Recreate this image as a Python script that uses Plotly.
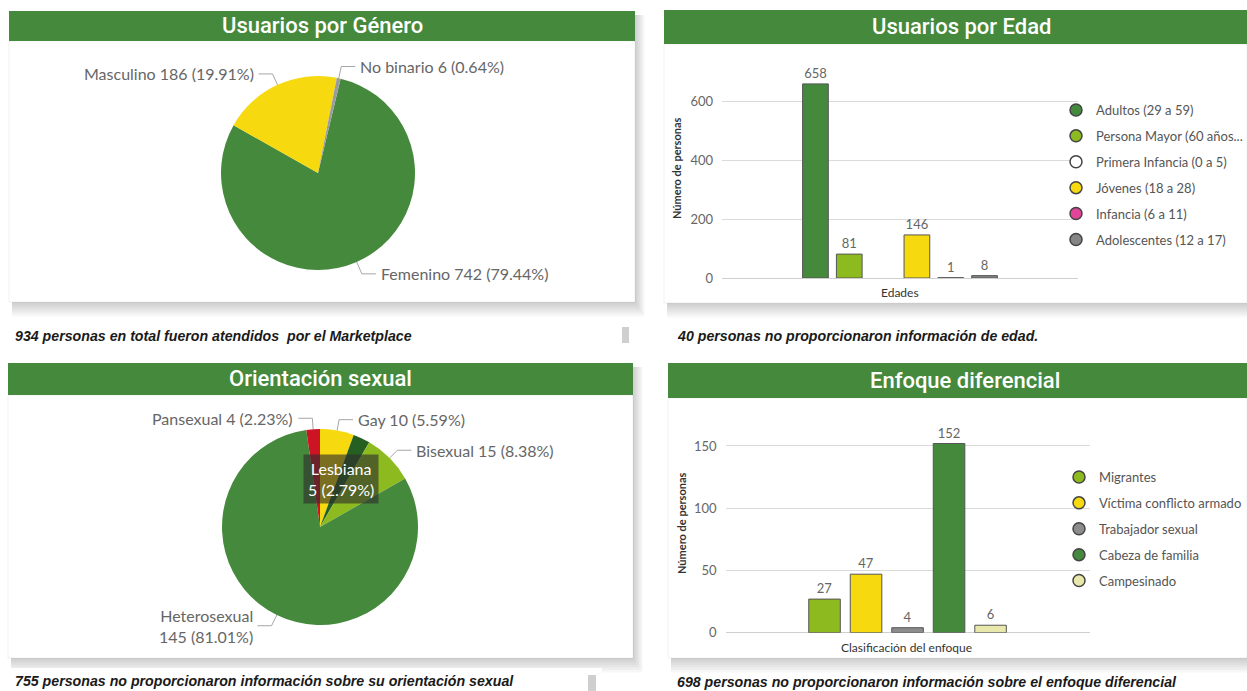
import math
import plotly.graph_objects as go

W, H = 1247, 691

# ---------------- data ----------------
gen_labels = ["Femenino", "Masculino", "No binario"]
gen_values = [742, 186, 6]
gen_colors = ["#45893C", "#F7D90F", "#9B9B9B"]

age_labels = ["Adultos (29 a 59)", "Persona Mayor (60 años...", "Primera Infancia (0 a 5)",
              "Jóvenes (18 a 28)", "Infancia (6 a 11)", "Adolescentes (12 a 17)"]
age_values = [658, 81, None, 146, 1, 8]
age_colors = ["#45893C", "#8DBB1F", "#FFFFFF", "#F7D90F", "#E2449A", "#858585"]

ori_labels = ["Gay", "Lesbiana", "Bisexual", "Heterosexual", "Pansexual"]
ori_values = [10, 5, 15, 145, 4]
ori_colors = ["#F7D90F", "#255F22", "#8DBB1F", "#45893C", "#CC1425"]

enf_labels = ["Migrantes", "Víctima conflicto armado", "Trabajador sexual",
              "Cabeza de familia", "Campesinado"]
enf_values = [27, 47, 4, 152, 6]
enf_colors = ["#8DBB1F", "#F7D90F", "#8C8C8C", "#45893C", "#E8E8AA"]

titles = ["Usuarios por Género", "Usuarios por Edad", "Orientación sexual", "Enfoque diferencial"]
captions = ["934 personas en total fueron atendidos  por el Marketplace",
            "40 personas no proporcionaron información de edad.",
            "755 personas no proporcionaron información sobre su orientación sexual",
            "698 personas no proporcionaron información sobre el enfoque diferencial"]

# ---------------- helpers ----------------
def fx(p):
    return p / W

def fy(p):
    return 1 - p / H

GREEN = "#45893C"
LABEL_FONT = "Lato"
fig = go.Figure()
shapes = []
annotations = []

# ---------------- panels ----------------
panels = [  # header box, body box
    ((9, 11, 635, 41), (9, 41, 635, 302)),
    ((664, 10, 1247, 44), (664, 44, 1247, 303)),
    ((8, 363, 633, 395), (8, 395, 633, 658)),
    ((668, 363, 1247, 398), (668, 398, 1247, 658)),
]
for (hx0, hy0, hx1, hy1), (bx0, by0, bx1, by1) in panels:
    for k in range(1, 7):
        shapes.append(dict(type="rect", xref="paper", yref="paper", layer="below",
                           x0=fx(bx0 + 3), x1=fx(bx1 + 1.6 * k), y0=fy(hy0 + 4), y1=fy(by1 + 2.4 * k),
                           fillcolor="rgba(0,0,0,0.03)", line=dict(width=0)))
    shapes.append(dict(type="rect", xref="paper", yref="paper", layer="below",
                       x0=fx(bx0), x1=fx(bx1), y0=fy(by0), y1=fy(by1),
                       fillcolor="white", line=dict(color="rgba(0,0,0,0.06)", width=1)))
    shapes.append(dict(type="rect", xref="paper", yref="paper", layer="below",
                       x0=fx(hx0), x1=fx(hx1), y0=fy(hy0), y1=fy(hy1),
                       fillcolor=GREEN, line=dict(width=0)))

# caption background for panel 3 and small scroll markers
shapes.append(dict(type="rect", xref="paper", yref="paper", layer="below",
                   x0=fx(10), x1=fx(602), y0=fy(668), y1=fy(691),
                   fillcolor="white", line=dict(width=0)))
for (x0, y0, x1, y1) in [(622, 327, 629, 343), (588, 675, 596, 691)]:
    shapes.append(dict(type="rect", xref="paper", yref="paper", layer="below",
                       x0=fx(x0), x1=fx(x1), y0=fy(y0), y1=fy(y1),
                       fillcolor="#CFCFCF", line=dict(width=0)))

title_pos = [(322, 25), (961, 27), (320, 378), (965, 380)]
for t, (x, y) in zip(titles, title_pos):
    annotations.append(dict(text=t, x=fx(x), y=fy(y), xref="paper", yref="paper",
                            showarrow=False, xanchor="center", yanchor="middle",
                            font=dict(family="Roboto", size=22, color="white", weight=500)))

cap_pos = [(13, 336), (675, 336), (13, 681), (675, 682)]
for t, (x, y) in zip(captions, cap_pos):
    annotations.append(dict(text=t.replace("  ", " \u00a0"), x=fx(x), y=fy(y), xref="paper", yref="paper",
                            showarrow=False, xanchor="left", yanchor="middle",
                            font=dict(family="Liberation Sans", size=14.2, color="#1A1A1A",
                                      weight="bold", style="italic")))

# ---------------- pies ----------------
def add_pie(labels, values, colors, cx, cy, r, rotation, label_specs):
    fig.add_trace(go.Pie(labels=labels, values=values, sort=False, direction="clockwise",
                         rotation=rotation, marker=dict(colors=colors, line=dict(width=0)),
                         textinfo="none", hoverinfo="label+value+percent", showlegend=False,
                         domain=dict(x=[fx(cx - r), fx(cx + r)], y=[fy(cy + r), fy(cy - r)])))
    total = sum(values)
    ang = rotation
    for lab, v in zip(labels, values):
        span = 360.0 * v / total
        mid = math.radians(ang + span / 2)
        ang += span
        pct = 100.0 * v / total
        spec = label_specs[lab]
        if spec["mode"] == "inside":
            px = cx + 0.5 * r * math.sin(mid)
            py = cy - 0.5 * r * math.cos(mid) - 4
            annotations.append(dict(text=f"{lab}<br>{v} ({pct:.2f}%)", x=fx(px), y=fy(py),
                                    xref="paper", yref="paper", showarrow=False,
                                    xanchor="center", yanchor="middle", align="center",
                                    bgcolor="rgba(45,45,45,0.62)", borderpad=4,
                                    font=dict(family=LABEL_FONT, size=16, color="white")))
            continue
        ext = spec.get("ext", 12)
        sx, sy = cx + r * math.sin(mid), cy - r * math.cos(mid)
        ex, ey = cx + (r + ext) * math.sin(mid), cy - (r + ext) * math.cos(mid)
        side = spec["side"]
        hx = ex + (14 if side == "right" else -14)
        shapes.append(dict(type="path", xref="paper", yref="paper",
                           path=f"M {fx(sx)},{fy(sy)} L {fx(ex)},{fy(ey)} L {fx(hx)},{fy(ey)}",
                           line=dict(color="#A6A6A6", width=1)))
        sep = "<br>" if spec.get("wrap") else " "
        annotations.append(dict(text=f"{lab}{sep}{v} ({pct:.2f}%)",
                                x=fx(hx + (3 if side == "right" else -3)), y=fy(ey),
                                xref="paper", yref="paper", showarrow=False,
                                xanchor="left" if side == "right" else "right",
                                yanchor="middle", align="right" if side == "left" else "left",
                                font=dict(family=LABEL_FONT, size=16, color="#666666")))

add_pie(gen_labels, gen_values, gen_colors, 318, 173, 97, 13.5, {
    "Femenino": dict(mode="out", side="right", ext=13),
    "Masculino": dict(mode="out", side="left", ext=12),
    "No binario": dict(mode="out", side="right", ext=12),
})
add_pie(ori_labels, ori_values, ori_colors, 320, 527, 98, 0, {
    "Gay": dict(mode="out", side="right", ext=11),
    "Lesbiana": dict(mode="inside"),
    "Bisexual": dict(mode="out", side="right", ext=11),
    "Heterosexual": dict(mode="out", side="left", ext=12, wrap=True),
    "Pansexual": dict(mode="out", side="left", ext=11),
})

# ---------------- bar charts ----------------
def add_bars(labels, values, colors, cat, xa, ya, legend):
    for lab, v, c in zip(labels, values, colors):
        fig.add_trace(go.Bar(x=[cat], y=[v], name=lab, marker=dict(color=c, line=dict(color="#555555", width=1)),
                             text=[str(v)] if v is not None else [""], textposition="outside",
                             textfont=dict(family=LABEL_FONT, size=13, color="#666666"),
                             cliponaxis=False, showlegend=False, xaxis=xa, yaxis=ya,
                             hovertemplate=f"{lab}: %{{y}}<extra></extra>"))
    for lab, c in zip(labels, colors):
        fig.add_trace(go.Scatter(x=[None], y=[None], mode="markers", name=lab,
                                 marker=dict(symbol="circle", size=12, color=c, line=dict(color="#444444", width=1.5)),
                                 legend=legend, legendgroup=legend + lab, showlegend=True,
                                 xaxis=xa, yaxis=ya, hoverinfo="skip"))

add_bars(age_labels, age_values, age_colors, "Edades", "x", "y", "legend")
add_bars(enf_labels, enf_values, enf_colors, "Clasificación del enfoque", "x2", "y2", "legend2")

axis_common = dict(showticklabels=False, showgrid=False, zeroline=False, showline=False,
                   ticks="", fixedrange=True, range=[-0.5, 0.5], automargin=False)
yaxis_common = dict(showgrid=True, gridcolor="#DADADA", gridwidth=1, zeroline=True,
                    zerolinecolor="#CFCFCF", zerolinewidth=1, showline=False, ticks="",
                    ticklabelstandoff=8, fixedrange=True, automargin=False,
                    tickfont=dict(family=LABEL_FONT, size=13, color="#666666"))

# chart 2: 0 at y=278, 600 at y=101
y2_top = 278 - 700 * (278 - 101) / 600
# chart 4: 0 at y=632.7, 150 at y=446
y4_top = 632.7 - 170 * (632.7 - 446) / 150

fig.update_layout(
    xaxis=dict(domain=[fx(722), fx(1078)], anchor="y", **axis_common),
    yaxis=dict(domain=[fy(278), fy(y2_top)], anchor="x", range=[0, 700], dtick=200, **yaxis_common),
    xaxis2=dict(domain=[fx(725.5), fx(1089.6)], anchor="y2", **axis_common),
    yaxis2=dict(domain=[fy(632.7), fy(y4_top)], anchor="x2", range=[0, 170], dtick=50, **yaxis_common),
)

# axis titles
for t, x, y, ang in [("Edades", 900, 292, 0), ("Número de personas", 676, 168, -90),
                     ("Clasificación del enfoque", 907, 647, 0), ("Número de personas", 681, 523, -90)]:
    annotations.append(dict(text=t, x=fx(x), y=fy(y), xref="paper", yref="paper", showarrow=False,
                            xanchor="center", yanchor="middle", textangle=ang,
                            font=dict(family=LABEL_FONT, size=12 if ang == 0 else 11,
                                      color="#333333", weight="normal" if ang == 0 else "bold")))

legend_common = dict(xanchor="left", yanchor="top", bgcolor="rgba(0,0,0,0)", borderwidth=0,
                     traceorder="grouped", tracegroupgap=6, itemclick=False, itemdoubleclick=False,
                     font=dict(family=LABEL_FONT, size=13, color="#555555"))

fig.update_layout(
    width=W, height=H, margin=dict(l=0, r=0, t=0, b=0, pad=0, autoexpand=False),
    paper_bgcolor="white", plot_bgcolor="rgba(0,0,0,0)",
    barmode="group", bargap=0.43, bargroupgap=0.24,
    showlegend=True,
    legend=dict(x=fx(1056), y=fy(95), **legend_common),
    legend2=dict(x=fx(1059), y=fy(462), **legend_common),
    shapes=shapes, annotations=annotations,
    font=dict(family=LABEL_FONT),
)

fig.write_html("out.html", config={"displayModeBar": False},
               post_script="document.body.style.margin='0';document.documentElement.style.overflow='hidden';document.body.style.overflow='hidden';")
